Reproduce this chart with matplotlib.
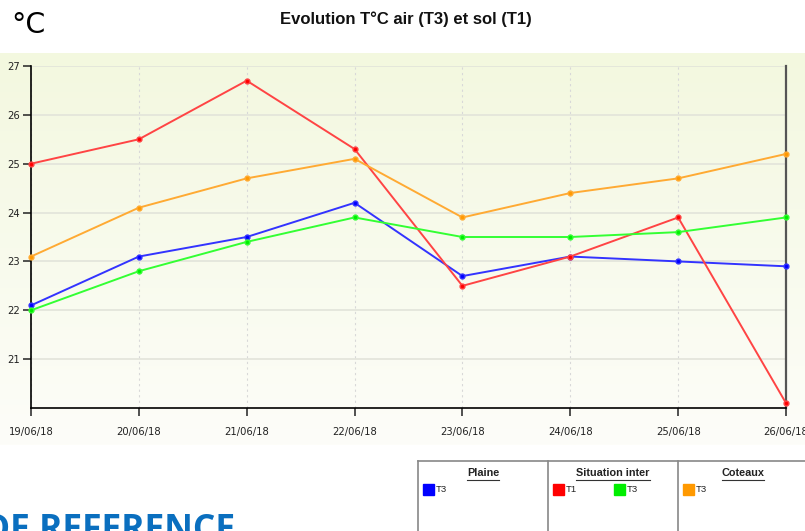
import numpy as np
import matplotlib.pyplot as plt
from matplotlib.patches import Rectangle
from matplotlib.lines import Line2D

dates = ["19/06/18", "20/06/18", "21/06/18", "22/06/18",
         "23/06/18", "24/06/18", "25/06/18", "26/06/18"]
plaine_t3 = [22.1, 23.1, 23.5, 24.2, 22.7, 23.1, 23.0, 22.9]
inter_t1 = [25.0, 25.5, 26.7, 25.3, 22.5, 23.1, 23.9, 20.1]
inter_t3 = [22.0, 22.8, 23.4, 23.9, 23.5, 23.5, 23.6, 23.9]
coteaux_t3 = [23.1, 24.1, 24.7, 25.1, 23.9, 24.4, 24.7, 25.2]

groups = ["Plaine", "Situation inter", "Coteaux"]
series = [("T3", "#0000ff", plaine_t3, 0),
          ("T1", "#ff0000", inter_t1, 1),
          ("T3", "#00ee00", inter_t3, 1),
          ("T3", "#ff9900", coteaux_t3, 2)]
line_colors = {"#0000ff": "#3333ff", "#ff0000": "#ff4444",
               "#00ee00": "#33ff33", "#ff9900": "#ffaa33"}

W, H = 805, 531
fig = plt.figure(figsize=(W / 100, H / 100), dpi=100)

# gradient background behind the chart
bg = fig.add_axes([0, 1 - 445 / H, 1, (445 - 53) / H])
grad = np.linspace(0, 1, 256).reshape(-1, 1)
top = np.array([243, 248, 223]) / 255
bot = np.array([253, 253, 249]) / 255
img = top + (bot - top) * grad[..., None]
bg.imshow(img, aspect="auto", extent=[0, 1, 0, 1])
bg.axis("off")

ax = fig.add_axes([31 / W, 1 - 408 / H, (786 - 31) / W, (408 - 66) / H])
ax.patch.set_alpha(0)
for name, col, vals, g in series:
    ax.plot(dates, vals, color=line_colors[col], lw=1.4, marker="o", ms=3.5,
            mec=line_colors[col], mfc=col, zorder=3, clip_on=False)

ax.set_ylim(20, 27)
ax.set_xlim(0, len(dates) - 1)
ax.set_yticks(range(21, 28))
ax.grid(axis="y", color="#e2e4da", lw=1.2)
ax.grid(axis="x", color="#d8d8d8", lw=0.8, ls=(0, (2, 3)))
ax.set_axisbelow(True)
ax.spines["top"].set_visible(False)
ax.spines["right"].set_color("#555555")
ax.spines["right"].set_linewidth(1.6)
ax.spines["left"].set_linewidth(1.2)
ax.spines["bottom"].set_linewidth(1.2)
ax.tick_params(axis="both", length=6, width=1.1, labelsize=7.2, colors="#222222")
ax.tick_params(axis="x", pad=8)
ax.tick_params(axis="y", pad=2)

fig.text(11 / W, 1 - 25 / H, "°C", fontsize=20.5, va="center", ha="left",
         color="black")
fig.text(406 / W, 1 - 19 / H, "Evolution T°C air (T3) et sol (T1)",
         fontsize=12, fontweight="bold", ha="center", va="center",
         family="Liberation Sans", color="#111111")

# legend table
col_x = [418, 548, 678, 808]
tb_top = 461
fig.add_artist(Line2D([col_x[0] / W, 1], [1 - tb_top / H] * 2, color="#888888", lw=1.2))
for cx in col_x[:3]:
    fig.add_artist(Line2D([cx / W] * 2, [0, 1 - tb_top / H], color="#888888", lw=1.2))
renderer = fig.canvas.get_renderer()
for i, gname in enumerate(groups):
    cx = (col_x[i] + col_x[i + 1]) / 2
    if i == 2:
        cx = 743
    t = fig.text(cx / W, 1 - 473 / H, gname, fontsize=7.8, fontweight="bold",
                 ha="center", va="center", family="Liberation Sans",
                 color="#222222")
    bb = t.get_window_extent(renderer)
    fig.add_artist(Line2D([bb.x0 / W, bb.x1 / W], [1 - 479.5 / H] * 2,
                          color="#333333", lw=0.8))
slot = {0: 0, 1: 0, 2: 0}
for name, col, vals, g in series:
    x0 = col_x[g] + 5 + slot[g] * 61
    slot[g] += 1
    fig.add_artist(Rectangle((x0 / W, 1 - 495 / H), 11 / W, 11 / H,
                             color=col, transform=fig.transFigure))
    fig.text((x0 + 13) / W, 1 - 490 / H, name, fontsize=6.8, va="center",
             family="Liberation Sans", color="#222222")

fig.text(-16 / W, 1 - 540 / H, "DE REFERENCE", fontsize=25.5, fontweight="bold",
         color="#0a6fbf", family="Open Sans", va="baseline", ha="left")

fig.savefig("out.png", dpi=100)
